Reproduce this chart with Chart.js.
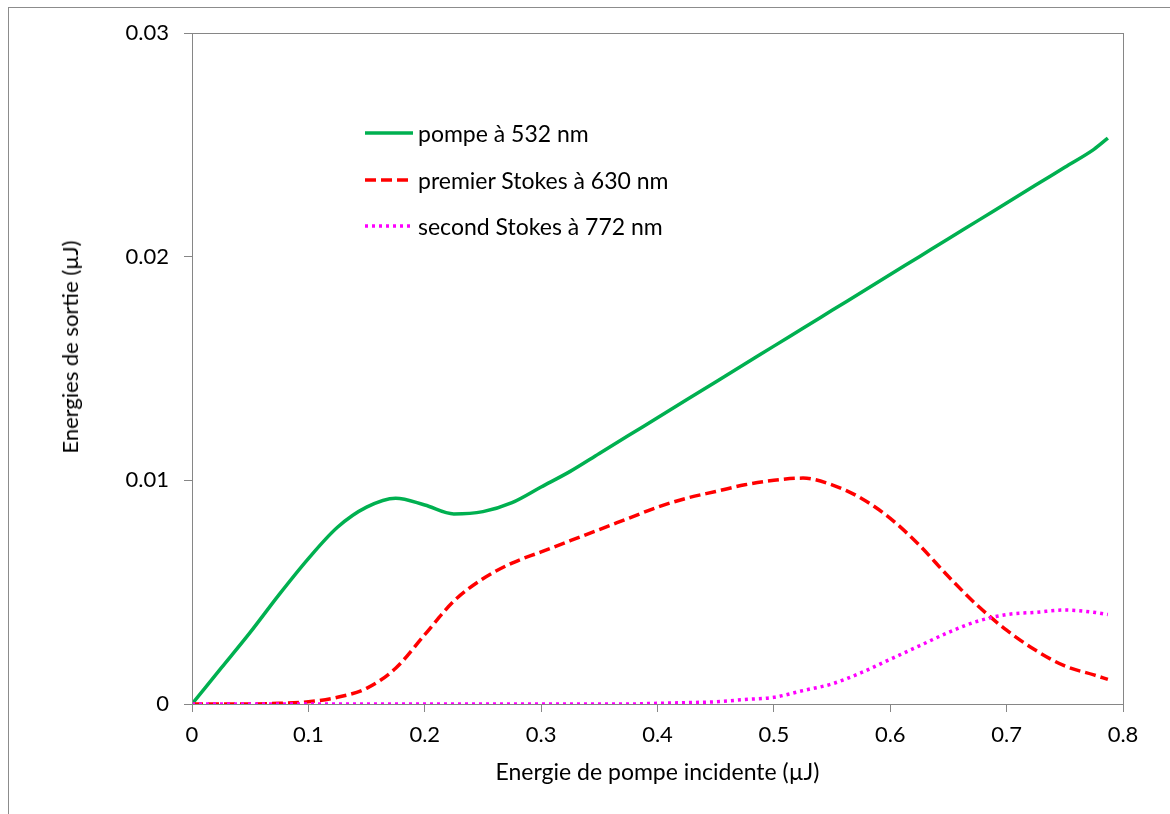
<!DOCTYPE html>
<html>
<head>
<meta charset="utf-8">
<script src="https://cdn.jsdelivr.net/npm/chart.js@4.4.1/dist/chart.umd.min.js"></script>
<style>
  html, body { margin: 0; padding: 0; background: #fff; overflow: hidden; }
  #wrap { position: relative; width: 1170px; height: 814px; overflow: hidden; }
  #frame { position: absolute; left: 8px; top: 7px; width: 1300px; height: 1000px; border: 1px solid #8c8c8c; box-sizing: border-box; }
  #c { position: absolute; left: 0; top: 0; }
  .leg { position: absolute; left: 363px; font-family: Lato, "Open Sans", sans-serif; font-size: 23px; color: #000; white-space: nowrap; }
  .leg svg { position: absolute; left: 0; top: 0; }
  .leg span { position: absolute; left: 55px; top: -14px; line-height: 28px; }
  #ytitle { position: absolute; left: 70px; top: 347px; transform: translate(-50%, -50%) rotate(-90deg);
            font-family: Lato, "Open Sans", sans-serif; font-size: 22px; line-height: 26px; color: #000; white-space: nowrap; }
</style>
</head>
<body>
<div id="wrap">
  <div id="frame"></div>
  <canvas id="c" width="1170" height="814"></canvas>
  <div id="legend"></div>
  <div id="ytitle"></div>
</div>
<script>
// ---- data ----
const xValues = [0, 0.025, 0.05, 0.075, 0.1, 0.125, 0.15, 0.175, 0.2, 0.225, 0.25, 0.275, 0.3, 0.325, 0.35, 0.375, 0.4, 0.425, 0.45, 0.475, 0.5, 0.525, 0.55, 0.575, 0.6, 0.625, 0.65, 0.675, 0.7, 0.725, 0.75, 0.775, 0.787];
const pompe532 = [0, 0.0016, 0.0032, 0.0049, 0.0065, 0.0079, 0.0088, 0.0092, 0.0089, 0.0085, 0.0086, 0.0090, 0.0097, 0.0104, 0.0112, 0.0120, 0.0128, 0.0136, 0.0144, 0.0152, 0.0160, 0.0168, 0.0176, 0.0184, 0.0192, 0.0200, 0.0208, 0.0216, 0.0224, 0.0232, 0.0240, 0.0248, 0.0253];
const stokes630 = [0, 0, 0, 0.00003, 0.0001, 0.0003, 0.0007, 0.0016, 0.0031, 0.0046, 0.0056, 0.0063, 0.0068, 0.0073, 0.0078, 0.0083, 0.0088, 0.0092, 0.0095, 0.0098, 0.0100, 0.0101, 0.0098, 0.0092, 0.0083, 0.0071, 0.0057, 0.0044, 0.0033, 0.0024, 0.0017, 0.0013, 0.0011];
const stokes772 = [0, 0, 0, 0, 0, 0, 0, 0, 0, 0, 0, 0, 0, 0, 0, 0, 0.00003, 0.00006, 0.0001, 0.0002, 0.0003, 0.0006, 0.0009, 0.0014, 0.0020, 0.0026, 0.0032, 0.0037, 0.0040, 0.0041, 0.0042, 0.0041, 0.0040];
const seriesNames = ['pompe à 532 nm', 'premier Stokes à 630 nm', 'second Stokes à 772 nm'];
const xTickLabels = ['0', '0.1', '0.2', '0.3', '0.4', '0.5', '0.6', '0.7', '0.8'];
const yTickLabels = ['0', '0.01', '0.02', '0.03'];
const xTitle = 'Energie de pompe incidente (µJ)';
const yTitle = 'Energies de sortie (µJ)';

// ---- styles ----
const colors = ['#00B050', '#FF0000', '#FF00FF'];
const dashes = [[], [11, 5], [3, 4]];
const widths = [3.5, 3.5, 3.5];
const axisColor = '#868686';
const FONT = 'Lato, "Open Sans", sans-serif';

function pts(ys) { return xValues.map((x, i) => ({ x: x, y: ys[i] })); }

const allSeries = [pompe532, stokes630, stokes772];
const datasets = allSeries.map((ys, i) => ({
  label: seriesNames[i],
  data: pts(ys),
  borderColor: colors[i],
  backgroundColor: colors[i],
  borderWidth: widths[i],
  borderDash: dashes[i],
  borderCapStyle: 'butt',
  pointRadius: 0,
  fill: false,
  cubicInterpolationMode: 'monotone',
  order: 2 - i
}));

const frameBox = {
  id: 'frameBox',
  afterDraw(chart) {
    const a = chart.chartArea, ctx = chart.ctx;
    ctx.save();
    ctx.strokeStyle = axisColor;
    ctx.lineWidth = 1;
    ctx.strokeRect(Math.round(a.left) + 0.5, Math.round(a.top) + 0.5, Math.round(a.right - a.left), Math.round(a.bottom - a.top));
    ctx.restore();
  }
};

new Chart(document.getElementById('c'), {
  type: 'line',
  data: { datasets: datasets },
  options: {
    responsive: false,
    animation: false,
    layout: { padding: { left: 0, top: 33, right: 47, bottom: 0 } },
    plugins: { legend: { display: false }, tooltip: { enabled: false } },
    scales: {
      x: {
        type: 'linear', min: 0, max: 0.8,
        afterFit(s) { s.height = 110; },
        afterBuildTicks(s) { s.ticks = xTickLabels.map(t => ({ value: parseFloat(t) })); },
        ticks: {
          callback: (v, i) => xTickLabels[i],
          font: { family: FONT, size: 22 }, color: '#000', padding: 10, maxRotation: 0, autoSkip: false
        },
        grid: { drawOnChartArea: false, color: axisColor, tickLength: 8 },
        border: { color: axisColor },
        title: { display: true, text: xTitle, font: { family: FONT, size: 23 }, color: '#000', padding: { top: 0, bottom: 28 } }
      },
      y: {
        type: 'linear', min: 0, max: 0.03,
        afterFit(s) { s.width = 192; },
        afterBuildTicks(s) { s.ticks = yTickLabels.map(t => ({ value: parseFloat(t) })); },
        ticks: {
          callback: (v, i) => yTickLabels[i],
          font: { family: FONT, size: 22 }, color: '#000', padding: 15, autoSkip: false
        },
        grid: { drawOnChartArea: false, color: axisColor, tickLength: 8 },
        border: { color: axisColor },
        title: { display: false }
      }
    }
  },
  plugins: [frameBox]
});

document.getElementById('ytitle').textContent = yTitle;

// ---- HTML legend inside the plot ----
const legTops = [133, 180, 226];
const legend = document.getElementById('legend');
seriesNames.forEach((name, i) => {
  const d = document.createElement('div');
  d.className = 'leg';
  d.style.top = legTops[i] + 'px';
  const dash = dashes[i].length ? dashes[i].join(',') : 'none';
  d.innerHTML = '<svg width="52" height="6" style="top:-3px"><line x1="2" y1="3" x2="50" y2="3" stroke="' + colors[i] +
    '" stroke-width="3.5" stroke-dasharray="' + dash + '"/></svg><span>' + name + '</span>';
  legend.appendChild(d);
});
</script>
</body>
</html>
